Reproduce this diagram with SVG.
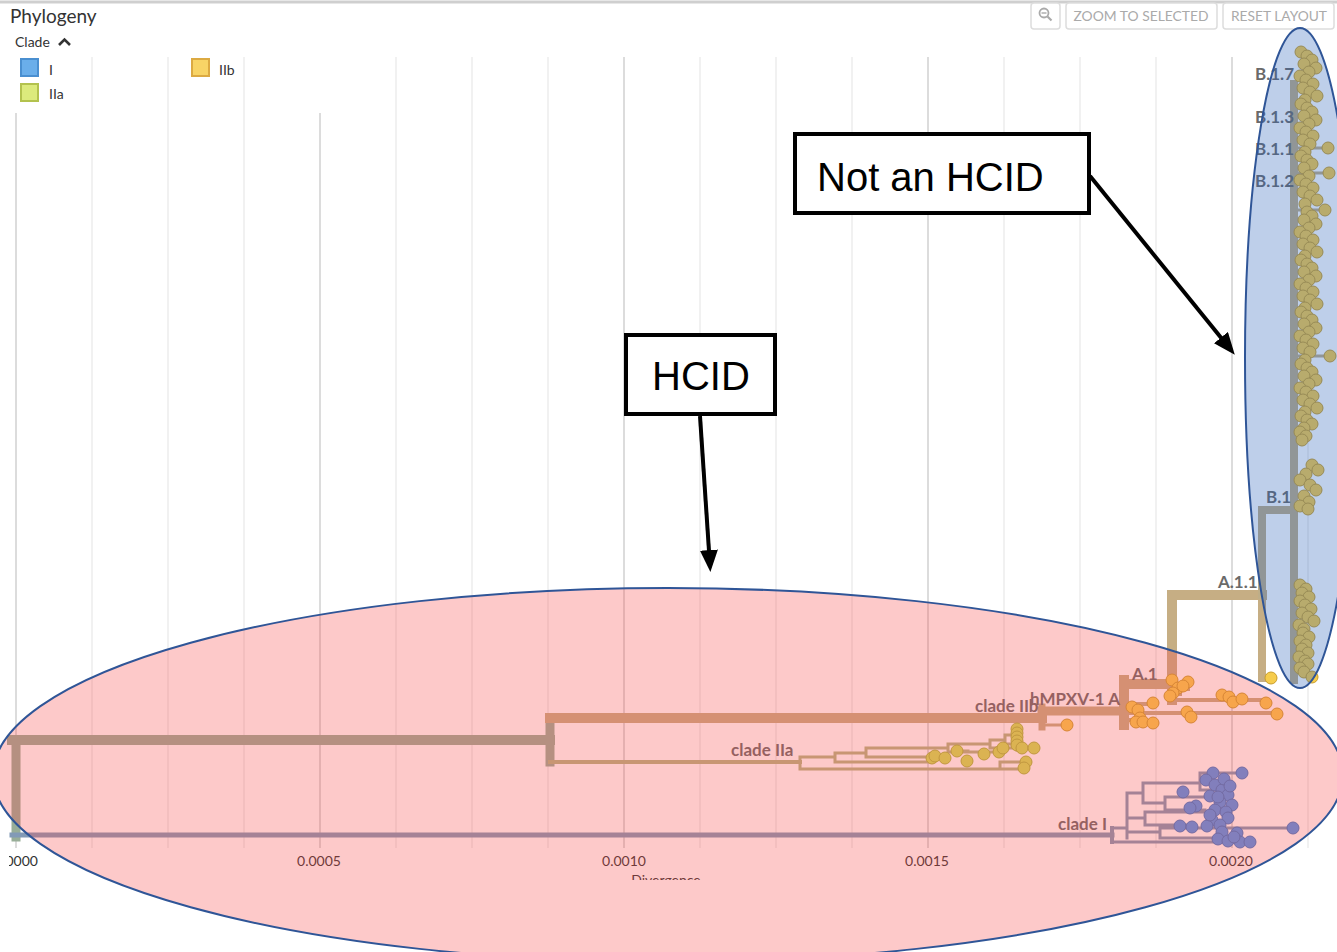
<svg xmlns="http://www.w3.org/2000/svg" width="1337" height="952" viewBox="0 0 1337 952">
<style>
.ui{font-family:Lato,"Open Sans","Liberation Sans",sans-serif}
.gmin{stroke:#ececec;stroke-width:1.5}
.gmaj{stroke:#dcdcdc;stroke-width:2}
.br{fill:none;stroke-linecap:square;stroke-linejoin:miter}
.root{stroke:#98ae98}
.iib{stroke:#c6ae84}
.iia{stroke:#b4b684}
.ci{stroke:#829ab6}
.bcol{stroke:#bfae88}
.tB{fill:#f6cc4c;stroke:#c99e2c;stroke-width:1}
.tA{fill:#cfe055;stroke:#a9b83a;stroke-width:1}
.tI{fill:#4f96ec;stroke:#3a78c8;stroke-width:1}
.lbl{font-family:Lato,"Open Sans","Liberation Sans",sans-serif;font-weight:700;font-size:17px;fill:#6a6a6a}
.ax{font-family:Lato,"Open Sans","Liberation Sans",sans-serif;font-size:14px;fill:#333}
.btn{fill:#fff;stroke:#ddd;stroke-width:1.5}
.btxt{font-family:Lato,"Open Sans","Liberation Sans",sans-serif;font-size:14px;fill:#aaa}
.ann{font-family:"Liberation Sans",Arial,sans-serif;font-size:40px;fill:#000}
.box{fill:#fff;stroke:#000;stroke-width:4}
</style>
<defs>
<marker id="ah" markerUnits="userSpaceOnUse" markerWidth="22" markerHeight="18" refX="16" refY="9" orient="auto">
<path d="M0,0 L22,9 L0,18 z" fill="#000"/>
</marker>
<clipPath id="clipL"><rect x="9" y="0" width="1400" height="952"/></clipPath>
<clipPath id="clipB"><rect x="0" y="0" width="1337" height="880"/></clipPath>
</defs>
<rect width="1337" height="952" fill="#fff"/>
<line x1="0" y1="2" x2="1337" y2="2" stroke="#cfcfcf" stroke-width="3"/>

<g id="header">
<text class="ui" x="10" y="23" font-size="19" fill="#333">Phylogeny</text>
<text class="ui" x="15" y="47" font-size="14" fill="#333">Clade</text>
<polyline points="59,45 64.5,39.5 70,45" fill="none" stroke="#333" stroke-width="2.6"/>
</g>

<g id="grid">
<line class="gmin" x1="92" y1="57" x2="92" y2="848"/>
<line class="gmin" x1="168" y1="57" x2="168" y2="848"/>
<line class="gmin" x1="244" y1="57" x2="244" y2="848"/>
<line class="gmin" x1="396" y1="57" x2="396" y2="848"/>
<line class="gmin" x1="472" y1="57" x2="472" y2="848"/>
<line class="gmin" x1="548" y1="57" x2="548" y2="848"/>
<line class="gmin" x1="700" y1="57" x2="700" y2="848"/>
<line class="gmin" x1="776" y1="57" x2="776" y2="848"/>
<line class="gmin" x1="852" y1="57" x2="852" y2="848"/>
<line class="gmin" x1="1004" y1="57" x2="1004" y2="848"/>
<line class="gmin" x1="1080" y1="57" x2="1080" y2="848"/>
<line class="gmin" x1="1156" y1="57" x2="1156" y2="848"/>
<line class="gmin" x1="1308" y1="57" x2="1308" y2="848"/>
<line class="gmaj" x1="16" y1="113" x2="16" y2="848"/>
<line class="gmaj" x1="320" y1="113" x2="320" y2="848"/>
<line class="gmaj" x1="624" y1="57" x2="624" y2="848"/>
<line class="gmaj" x1="928" y1="57" x2="928" y2="848"/>
<line class="gmaj" x1="1232" y1="57" x2="1232" y2="848"/>
</g>

<g id="legend">
<rect x="21" y="59" width="17" height="17" fill="#6aaeea" stroke="#4a8fd0" stroke-width="2"/>
<text class="ui" x="49" y="75" font-size="14" fill="#333">I</text>
<rect x="192" y="59" width="17" height="17" fill="#f8d466" stroke="#dcaa42" stroke-width="2"/>
<text class="ui" x="219" y="75" font-size="14" fill="#333">IIb</text>
<rect x="21" y="84" width="17" height="17" fill="#dcea7c" stroke="#b3c24e" stroke-width="2"/>
<text class="ui" x="49" y="99" font-size="14" fill="#333">IIa</text>
</g>

<g id="buttons">
<rect class="btn" x="1031" y="3" width="29" height="26" rx="3"/>
<circle cx="1044" cy="13" r="4.5" fill="none" stroke="#aaa" stroke-width="1.8"/>
<line x1="1041.5" y1="13" x2="1046.5" y2="13" stroke="#aaa" stroke-width="1.4"/>
<line x1="1047.5" y1="16.5" x2="1051.5" y2="20.5" stroke="#aaa" stroke-width="2.2"/>
<rect class="btn" x="1066" y="3" width="151" height="26" rx="3"/>
<text class="btxt" x="1141" y="21" text-anchor="middle" textLength="135" lengthAdjust="spacingAndGlyphs">ZOOM TO SELECTED</text>
<rect class="btn" x="1223" y="3" width="111" height="26" rx="3"/>
<text class="btxt" x="1279" y="21" text-anchor="middle" textLength="96" lengthAdjust="spacingAndGlyphs">RESET LAYOUT</text>
</g>

<g id="connectors">
<path class="br root" d="M16,740 V837" stroke-width="9"/>
<path class="br root" d="M12,740 H550" stroke-width="10"/>
<path class="br root" d="M550,718 V762" stroke-width="9"/>
<path class="br ci" d="M12,835 H1112" stroke-width="5"/>
<path class="br iib" d="M550,718 H1042" stroke-width="10"/>
<path class="br iib" d="M1042,707 V727" stroke-width="7"/>
<path class="br iib" d="M1042,711 H1124" stroke-width="9"/>
<path class="br iib" d="M1042,725 H1066" stroke-width="3"/>
<path class="br iib" d="M1124,680 V725" stroke-width="10"/>
<path class="br iib" d="M1124,684 H1172" stroke-width="10"/>
<path class="br iib" d="M1172,595 V700" stroke-width="10"/>
<path class="br iib" d="M1172,595 H1262" stroke-width="10"/>
<path class="br iib" d="M1262,595 V678 H1271" stroke-width="8"/>
<path class="br bcol" d="M1262,510 V595" stroke-width="8"/>
<path class="br bcol" d="M1262,510 H1294" stroke-width="8"/>
<path class="br bcol" d="M1294,84 V680" stroke-width="8"/>
<path class="br bcol" d="M1294,148 H1328 M1294,356 H1330 M1294,173 H1328 M1294,210 H1325" stroke-width="3"/>
<path class="br iib" d="M1124,704 H1153 M1124,713 H1278 M1124,720 H1145 M1172,689 H1188 M1172,700 H1266 M1172,694 H1180" stroke-width="4"/>
<path class="br iia" d="M550,762 H800" stroke-width="4"/>
<path class="br iia" d="M800,757 V769 M800,769 H1024 M800,757 H835 M835,753 V762 M835,762 H932 M835,753 H866 M866,748 V757 M866,748 H948 M866,757 H945 M948,744 V752 M948,744 H990 M948,752 H1000 M990,740 V748 M990,740 H1005 M990,748 H1034 M1005,735 V744 M1005,735 H1017 M1005,744 H1022 M1017,728 V750 M957,751 H968 M1000,762 V769 M1000,762 H1026" stroke-width="3"/>
<path class="br ci" d="M1112,828 V842" stroke-width="4"/>
<path class="br ci" d="M1112,828 H1127 M1112,842 H1250 M1127,793 V838 M1127,793 H1143 M1143,783 V803 M1143,783 H1200 M1200,773 V790 M1200,773 H1242 M1200,790 H1215 M1143,803 H1165 M1165,797 V810 M1165,797 H1218 M1165,810 H1205 M1127,818 H1145 M1145,812 V825 M1145,812 H1215 M1145,825 H1190 M1127,832 H1160 M1160,828 V838 M1160,828 H1293 M1160,838 H1240" stroke-width="3"/>
</g>

<g id="tips-I">
<circle class="tI" cx="1213" cy="773" r="6"/><circle class="tI" cx="1242" cy="773" r="6"/>
<circle class="tI" cx="1206" cy="780" r="6"/><circle class="tI" cx="1215" cy="785" r="6"/>
<circle class="tI" cx="1222" cy="790" r="6"/><circle class="tI" cx="1228" cy="795" r="6"/>
<circle class="tI" cx="1210" cy="796" r="6"/><circle class="tI" cx="1220" cy="802" r="6"/>
<circle class="tI" cx="1232" cy="805" r="6"/><circle class="tI" cx="1183" cy="792" r="6"/>
<circle class="tI" cx="1196" cy="806" r="6"/><circle class="tI" cx="1190" cy="808" r="6"/>
<circle class="tI" cx="1215" cy="810" r="6"/><circle class="tI" cx="1226" cy="812" r="6"/>
<circle class="tI" cx="1228" cy="818" r="6"/><circle class="tI" cx="1212" cy="820" r="6"/>
<circle class="tI" cx="1220" cy="825" r="6"/><circle class="tI" cx="1180" cy="826" r="6"/>
<circle class="tI" cx="1192" cy="827" r="6"/><circle class="tI" cx="1207" cy="826" r="6"/>
<circle class="tI" cx="1222" cy="832" r="6"/><circle class="tI" cx="1237" cy="833" r="6"/>
<circle class="tI" cx="1293" cy="828" r="6"/><circle class="tI" cx="1218" cy="839" r="6"/>
<circle class="tI" cx="1228" cy="841" r="6"/><circle class="tI" cx="1240" cy="842" r="6"/>
<circle class="tI" cx="1250" cy="842" r="6"/><circle class="tI" cx="1234" cy="837" r="6"/>
<circle class="tI" cx="1210" cy="815" r="6"/><circle class="tI" cx="1218" cy="797" r="6"/>
<circle class="tI" cx="1224" cy="779" r="6"/><circle class="tI" cx="1230" cy="786" r="6"/>
</g>

<g id="tips-IIa">
<circle class="tA" cx="932" cy="758" r="6"/><circle class="tA" cx="935" cy="756" r="6"/>
<circle class="tA" cx="945" cy="758" r="6"/><circle class="tA" cx="957" cy="751" r="6"/>
<circle class="tA" cx="967" cy="761" r="6"/><circle class="tA" cx="984" cy="754" r="6"/>
<circle class="tA" cx="999" cy="752" r="6"/><circle class="tA" cx="1003" cy="748" r="6"/>
<circle class="tA" cx="1017" cy="729" r="6"/><circle class="tA" cx="1017" cy="733" r="6"/>
<circle class="tA" cx="1017" cy="737" r="6"/><circle class="tA" cx="1017" cy="741" r="6"/>
<circle class="tA" cx="1017" cy="745" r="6"/><circle class="tA" cx="1022" cy="748" r="6"/>
<circle class="tA" cx="1034" cy="748" r="6"/><circle class="tA" cx="1026" cy="762" r="6"/>
<circle class="tA" cx="1024" cy="768" r="6"/>
</g>

<g id="tips-IIb">
<circle class="tB" cx="1067" cy="725" r="6"/>
<circle class="tB" cx="1132" cy="707" r="6"/><circle class="tB" cx="1138" cy="710" r="6"/>
<circle class="tB" cx="1140" cy="718" r="6"/><circle class="tB" cx="1136" cy="722" r="6"/>
<circle class="tB" cx="1143" cy="722" r="6"/><circle class="tB" cx="1153" cy="723" r="6"/>
<circle class="tB" cx="1153" cy="703" r="6"/><circle class="tB" cx="1187" cy="712" r="6"/>
<circle class="tB" cx="1191" cy="717" r="6"/><circle class="tB" cx="1277" cy="714" r="6"/>
<circle class="tB" cx="1172" cy="680" r="6"/><circle class="tB" cx="1188" cy="682" r="6"/>
<circle class="tB" cx="1178" cy="688" r="6"/><circle class="tB" cx="1173" cy="693" r="6"/>
<circle class="tB" cx="1170" cy="696" r="6"/><circle class="tB" cx="1183" cy="686" r="6"/>
<circle class="tB" cx="1222" cy="695" r="6"/><circle class="tB" cx="1229" cy="697" r="6"/>
<circle class="tB" cx="1233" cy="702" r="6"/><circle class="tB" cx="1242" cy="699" r="6"/>
<circle class="tB" cx="1266" cy="703" r="6"/><circle class="tB" cx="1271" cy="678" r="6"/>
</g>

<g id="tips-B">
<circle class="tB" cx="1301" cy="52" r="6"/><circle class="tB" cx="1307" cy="56" r="6"/><circle class="tB" cx="1312" cy="60" r="6"/><circle class="tB" cx="1304" cy="64" r="6"/><circle class="tB" cx="1316" cy="68" r="6"/><circle class="tB" cx="1309" cy="72" r="6"/><circle class="tB" cx="1300" cy="76" r="6"/><circle class="tB" cx="1306" cy="80" r="6"/><circle class="tB" cx="1313" cy="84" r="6"/><circle class="tB" cx="1303" cy="88" r="6"/>
<circle class="tB" cx="1310" cy="92" r="6"/><circle class="tB" cx="1317" cy="96" r="6"/><circle class="tB" cx="1305" cy="100" r="6"/><circle class="tB" cx="1301" cy="104" r="6"/><circle class="tB" cx="1307" cy="108" r="6"/><circle class="tB" cx="1312" cy="112" r="6"/><circle class="tB" cx="1304" cy="116" r="6"/><circle class="tB" cx="1316" cy="120" r="6"/><circle class="tB" cx="1309" cy="124" r="6"/><circle class="tB" cx="1300" cy="128" r="6"/>
<circle class="tB" cx="1306" cy="132" r="6"/><circle class="tB" cx="1313" cy="136" r="6"/><circle class="tB" cx="1303" cy="140" r="6"/><circle class="tB" cx="1310" cy="144" r="6"/><circle class="tB" cx="1328" cy="148" r="6"/><circle class="tB" cx="1305" cy="152" r="6"/><circle class="tB" cx="1301" cy="156" r="6"/><circle class="tB" cx="1307" cy="160" r="6"/><circle class="tB" cx="1312" cy="164" r="6"/><circle class="tB" cx="1304" cy="168" r="6"/>
<circle class="tB" cx="1329" cy="173" r="6"/><circle class="tB" cx="1309" cy="176" r="6"/><circle class="tB" cx="1300" cy="180" r="6"/><circle class="tB" cx="1306" cy="184" r="6"/><circle class="tB" cx="1313" cy="188" r="6"/><circle class="tB" cx="1303" cy="192" r="6"/><circle class="tB" cx="1310" cy="196" r="6"/><circle class="tB" cx="1317" cy="200" r="6"/><circle class="tB" cx="1305" cy="204" r="6"/><circle class="tB" cx="1325" cy="210" r="6"/>
<circle class="tB" cx="1307" cy="212" r="6"/><circle class="tB" cx="1312" cy="216" r="6"/><circle class="tB" cx="1304" cy="220" r="6"/><circle class="tB" cx="1316" cy="224" r="6"/><circle class="tB" cx="1309" cy="228" r="6"/><circle class="tB" cx="1300" cy="232" r="6"/><circle class="tB" cx="1306" cy="236" r="6"/><circle class="tB" cx="1313" cy="240" r="6"/><circle class="tB" cx="1303" cy="244" r="6"/><circle class="tB" cx="1310" cy="248" r="6"/>
<circle class="tB" cx="1317" cy="252" r="6"/><circle class="tB" cx="1305" cy="256" r="6"/><circle class="tB" cx="1301" cy="260" r="6"/><circle class="tB" cx="1307" cy="264" r="6"/><circle class="tB" cx="1312" cy="268" r="6"/><circle class="tB" cx="1304" cy="272" r="6"/><circle class="tB" cx="1316" cy="276" r="6"/><circle class="tB" cx="1309" cy="280" r="6"/><circle class="tB" cx="1300" cy="284" r="6"/><circle class="tB" cx="1306" cy="288" r="6"/>
<circle class="tB" cx="1313" cy="292" r="6"/><circle class="tB" cx="1303" cy="296" r="6"/><circle class="tB" cx="1310" cy="300" r="6"/><circle class="tB" cx="1317" cy="304" r="6"/><circle class="tB" cx="1305" cy="308" r="6"/><circle class="tB" cx="1301" cy="312" r="6"/><circle class="tB" cx="1307" cy="316" r="6"/><circle class="tB" cx="1312" cy="320" r="6"/><circle class="tB" cx="1304" cy="324" r="6"/><circle class="tB" cx="1316" cy="328" r="6"/>
<circle class="tB" cx="1309" cy="332" r="6"/><circle class="tB" cx="1300" cy="336" r="6"/><circle class="tB" cx="1306" cy="340" r="6"/><circle class="tB" cx="1313" cy="344" r="6"/><circle class="tB" cx="1303" cy="348" r="6"/><circle class="tB" cx="1310" cy="352" r="6"/><circle class="tB" cx="1330" cy="356" r="6"/><circle class="tB" cx="1305" cy="360" r="6"/><circle class="tB" cx="1301" cy="364" r="6"/><circle class="tB" cx="1307" cy="368" r="6"/>
<circle class="tB" cx="1312" cy="372" r="6"/><circle class="tB" cx="1304" cy="376" r="6"/><circle class="tB" cx="1316" cy="380" r="6"/><circle class="tB" cx="1309" cy="384" r="6"/><circle class="tB" cx="1300" cy="388" r="6"/><circle class="tB" cx="1306" cy="392" r="6"/><circle class="tB" cx="1313" cy="396" r="6"/><circle class="tB" cx="1303" cy="400" r="6"/><circle class="tB" cx="1310" cy="404" r="6"/><circle class="tB" cx="1317" cy="408" r="6"/>
<circle class="tB" cx="1305" cy="412" r="6"/><circle class="tB" cx="1301" cy="416" r="6"/><circle class="tB" cx="1307" cy="420" r="6"/><circle class="tB" cx="1312" cy="424" r="6"/><circle class="tB" cx="1304" cy="428" r="6"/><circle class="tB" cx="1300" cy="432" r="6"/><circle class="tB" cx="1306" cy="436" r="6"/><circle class="tB" cx="1302" cy="440" r="6"/>
<circle class="tB" cx="1312" cy="465" r="6"/><circle class="tB" cx="1318" cy="470" r="6"/><circle class="tB" cx="1306" cy="474" r="6"/><circle class="tB" cx="1300" cy="480" r="6"/><circle class="tB" cx="1310" cy="485" r="6"/><circle class="tB" cx="1316" cy="490" r="6"/><circle class="tB" cx="1304" cy="496" r="6"/><circle class="tB" cx="1309" cy="502" r="6"/><circle class="tB" cx="1300" cy="506" r="6"/><circle class="tB" cx="1308" cy="509" r="6"/>
<circle class="tB" cx="1300" cy="585" r="6"/><circle class="tB" cx="1306" cy="589" r="6"/><circle class="tB" cx="1302" cy="593" r="6"/><circle class="tB" cx="1309" cy="597" r="6"/><circle class="tB" cx="1300" cy="601" r="6"/><circle class="tB" cx="1305" cy="605" r="6"/><circle class="tB" cx="1311" cy="609" r="6"/><circle class="tB" cx="1302" cy="613" r="6"/><circle class="tB" cx="1308" cy="617" r="6"/><circle class="tB" cx="1314" cy="621" r="6"/>
<circle class="tB" cx="1299" cy="625" r="6"/><circle class="tB" cx="1304" cy="629" r="6"/><circle class="tB" cx="1303" cy="633" r="6"/><circle class="tB" cx="1309" cy="637" r="6"/><circle class="tB" cx="1300" cy="641" r="6"/><circle class="tB" cx="1306" cy="645" r="6"/><circle class="tB" cx="1302" cy="649" r="6"/><circle class="tB" cx="1308" cy="653" r="6"/><circle class="tB" cx="1299" cy="657" r="6"/><circle class="tB" cx="1305" cy="661" r="6"/>
<circle class="tB" cx="1308" cy="664" r="6"/><circle class="tB" cx="1300" cy="668" r="6"/><circle class="tB" cx="1304" cy="672" r="6"/><circle class="tB" cx="1312" cy="677" r="6"/>
</g>

<g id="tree-labels">
<text class="lbl" x="1255" y="80">B.1.7</text>
<text class="lbl" x="1255" y="123">B.1.3</text>
<text class="lbl" x="1255" y="155">B.1.1</text>
<text class="lbl" x="1255" y="187">B.1.2</text>
<text class="lbl" x="1266" y="503">B.1</text>
<text class="lbl" x="1218" y="588">A.1.1</text>
<text class="lbl" x="1132" y="680">A.1</text>
<text class="lbl" x="1030" y="705">hMPXV-1 A</text>
<text class="lbl" x="975" y="712">clade IIb</text>
<text class="lbl" x="731" y="756">clade IIa</text>
<text class="lbl" x="1058" y="830">clade I</text>
</g>

<g id="axis">
<text class="ax" x="16" y="866" text-anchor="middle" clip-path="url(#clipL)">0.0000</text>
<text class="ax" x="319" y="866" text-anchor="middle">0.0005</text>
<text class="ax" x="624" y="866" text-anchor="middle">0.0010</text>
<text class="ax" x="927" y="866" text-anchor="middle">0.0015</text>
<text class="ax" x="1231" y="866" text-anchor="middle">0.0020</text>
<text class="ax" x="666" y="885" text-anchor="middle" clip-path="url(#clipB)">Divergence</text>
</g>

<g id="hcid-region">
<ellipse cx="668" cy="775" rx="675" ry="187" fill="rgb(248,75,75)" fill-opacity="0.3" stroke="#2f5597" stroke-width="2"/>
</g>
<g id="not-hcid-region">
<ellipse cx="1300" cy="358" rx="55" ry="330" fill="rgb(40,95,185)" fill-opacity="0.3" stroke="#2f5597" stroke-width="2"/>
</g>

<g id="annotation-arrows">
<line x1="1090" y1="176" x2="1231" y2="350" stroke="#000" stroke-width="4" marker-end="url(#ah)"/>
<line x1="700" y1="416" x2="710" y2="566" stroke="#000" stroke-width="4" marker-end="url(#ah)"/>
</g>

<g id="box-not-hcid">
<rect class="box" x="795" y="134" width="294" height="79"/>
<text class="ann" x="817" y="191">Not an HCID</text>
</g>
<g id="box-hcid">
<rect class="box" x="626" y="335" width="149" height="79"/>
<text class="ann" x="652" y="390">HCID</text>
</g>
</svg>
